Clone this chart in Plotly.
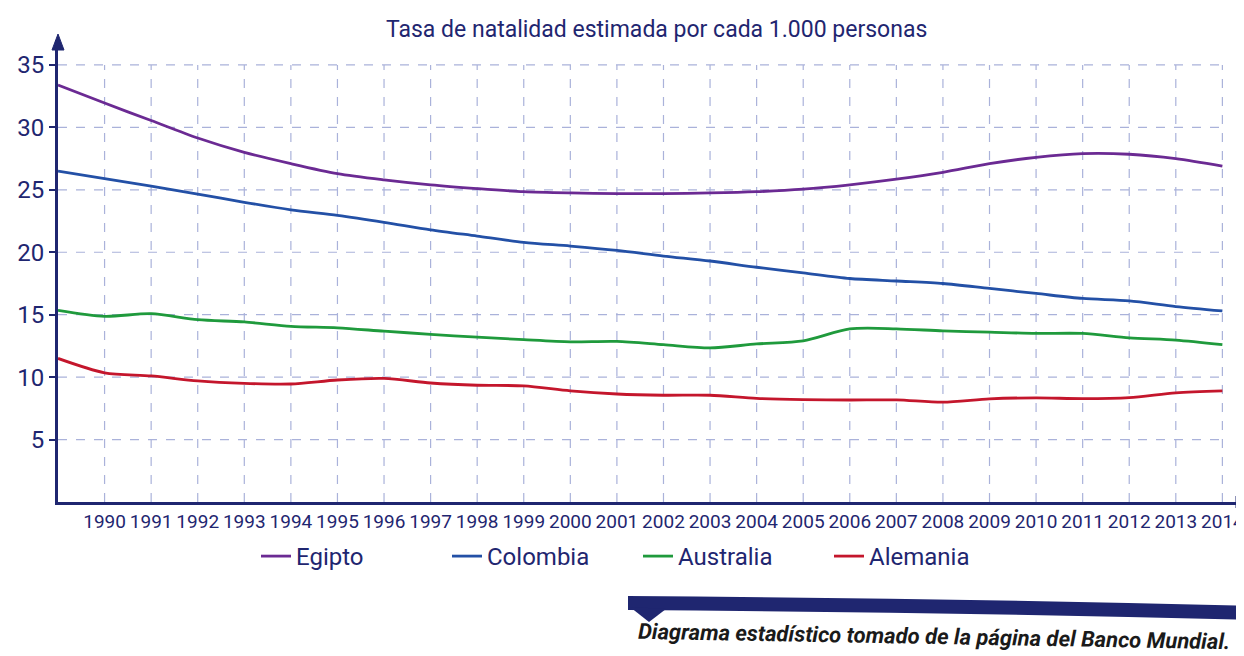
import plotly.graph_objects as go

years = list(range(1989, 2015))
year_labels = [str(y) for y in range(1990, 2015)]
y_ticks = [5, 10, 15, 20, 25, 30, 35]

egipto = [33.4, 31.95, 30.55, 29.15, 28.0, 27.1, 26.3, 25.8, 25.4, 25.1, 24.85, 24.75, 24.7,
          24.7, 24.75, 24.85, 25.05, 25.4, 25.85, 26.4, 27.1, 27.6, 27.9, 27.85, 27.5, 26.9]
colombia = [26.5, 25.9, 25.3, 24.66, 24.0, 23.4, 22.95, 22.4, 21.8, 21.3, 20.8, 20.5, 20.15,
            19.7, 19.3, 18.8, 18.35, 17.9, 17.7, 17.5, 17.1, 16.7, 16.3, 16.1, 15.65, 15.3]
australia = [15.35, 14.87, 15.08, 14.6, 14.42, 14.07, 13.95, 13.68, 13.43, 13.2, 13.0, 12.83, 12.86,
             12.6, 12.34, 12.66, 12.9, 13.86, 13.87, 13.7, 13.6, 13.5, 13.5, 13.15, 12.97, 12.6]
alemania = [11.5, 10.35, 10.1, 9.7, 9.5, 9.45, 9.77, 9.9, 9.53, 9.35, 9.3, 8.9, 8.65,
            8.55, 8.55, 8.3, 8.2, 8.17, 8.18, 8.0, 8.26, 8.34, 8.28, 8.36, 8.74, 8.9]

series = [
    ("Egipto", egipto, "#6b2a93"),
    ("Colombia", colombia, "#2350a6"),
    ("Australia", australia, "#1f9a3c"),
    ("Alemania", alemania, "#c4162c"),
]

NAVY = "#1f2670"
GRID = "#aab2da"
FONT = "Roboto, sans-serif"

W, H = 1244, 656
L, R, T, B = 50, 4, 32, 162
PW, PH = W - L - R, H - T - B


def px(x):
    return (x - L) / PW


def py(y):
    return (H - B - y) / PH


fig = go.Figure()
for name, vals, col in series:
    fig.add_trace(go.Scatter(x=years, y=vals, name=name, mode="lines",
                             line=dict(color=col, width=2.8, shape="spline", smoothing=0.8)))

shapes = []
for yr in range(1990, 2015):
    shapes.append(dict(type="line", xref="x", yref="y", x0=yr, x1=yr, y0=0, y1=35,
                       line=dict(color=GRID, width=1.2, dash="dash"), layer="below"))
for yv in y_ticks:
    shapes.append(dict(type="line", xref="x", yref="y", x0=1989, x1=2014, y0=yv, y1=yv,
                       line=dict(color=GRID, width=1.2, dash="dash"), layer="below"))

# axis arrows
shapes.append(dict(type="path", xref="paper", yref="paper",
                   path=f"M {px(44)},{py(42)} L {px(56)},{py(42)} L {px(50)},{py(26)} Z",
                   fillcolor=NAVY, line=dict(color=NAVY, width=1)))
shapes.append(dict(type="path", xref="paper", yref="paper",
                   path=f"M {px(1228)},{py(488)} L {px(1228)},{py(500)} L {px(1243)},{py(494)} Z",
                   fillcolor=NAVY, line=dict(color=NAVY, width=1)))
# caption bar and pointer
shapes.append(dict(type="path", xref="paper", yref="paper",
                   path=(f"M {px(620)},{py(588)} Q {px(930)},{py(590)} {px(1244)},{py(598)} "
                         f"L {px(1244)},{py(612)} Q {px(930)},{py(604)} {px(620)},{py(602)} Z"),
                   fillcolor=NAVY, line=dict(color=NAVY, width=0)))
shapes.append(dict(type="path", xref="paper", yref="paper",
                   path=f"M {px(622)},{py(599)} L {px(658)},{py(601)} L {px(641)},{py(614)} Z",
                   fillcolor=NAVY, line=dict(color=NAVY, width=0)))

annotations = [
    dict(text="Tasa de natalidad estimada por cada 1.000 personas", xref="paper", yref="paper",
         x=px(648), y=py(22), xanchor="center", yanchor="middle", showarrow=False,
         font=dict(family=FONT, size=23, color=NAVY)),
    dict(text="<b><i>Diagrama estadístico tomado de la página del Banco Mundial.</i></b>",
         xref="paper", yref="paper", x=px(926), y=py(628), xanchor="center", yanchor="middle",
         showarrow=False, textangle=1, font=dict(family=FONT, size=22, color="#1a1a1a")),
]

fig.update_layout(
    width=W, height=H,
    margin=dict(l=L, r=R, t=T, b=B),
    paper_bgcolor="white", plot_bgcolor="white",
    shapes=shapes, annotations=annotations,
    showlegend=True,
    legend=dict(orientation="h", x=px(248), y=py(526), xanchor="left", yanchor="top",
                font=dict(family=FONT, size=24, color=NAVY), entrywidth=146,
                bgcolor="rgba(0,0,0,0)"),
    xaxis=dict(range=[1989, 2014.55], tickvals=list(range(1990, 2015)), ticktext=year_labels,
               tickangle=0, showgrid=False, zeroline=False, showline=True, linecolor=NAVY,
               linewidth=3, ticks="", tickfont=dict(family=FONT, size=19, color=NAVY)),
    yaxis=dict(range=[0, 37], tickvals=y_ticks, ticktext=[str(v) for v in y_ticks],
               showgrid=False, zeroline=False, showline=True, linecolor=NAVY, linewidth=3,
               ticks="outside", ticklen=6, tickwidth=2, tickcolor=NAVY,
               tickfont=dict(family=FONT, size=24, color=NAVY)),
)

fig.write_html("out.html")
